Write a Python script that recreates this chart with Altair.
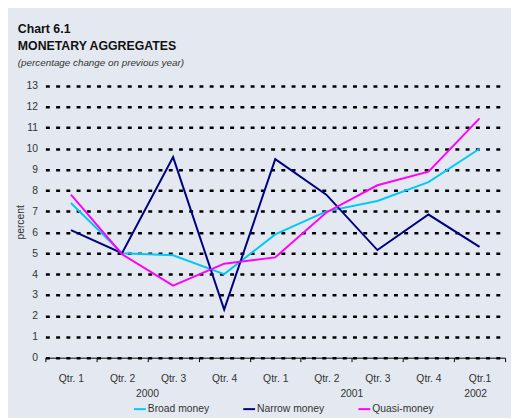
import altair as alt
import pandas as pd

periods = ["2000|Qtr. 1", "2000|Qtr. 2", "2000|Qtr. 3", "2000|Qtr. 4",
           "2001|Qtr. 1", "2001|Qtr. 2", "2001|Qtr. 3", "2001|Qtr. 4", "2002|Qtr.1"]
broad_money = [7.4, 5.0, 4.9, 4.0, 5.9, 7.0, 7.5, 8.4, 10.0]
narrow_money = [6.1, 5.0, 9.6, 2.3, 9.5, 7.8, 5.15, 6.85, 5.3]
quasi_money = [7.8, 4.95, 3.45, 4.5, 4.8, 6.95, 8.25, 8.9, 11.45]
series_names = ["Broad money", "Narrow money", "Quasi-money"]
series_colors = ["#00c8f8", "#000080", "#ff00ff"]
year_labels = ["2000", "2001"]
year_anchor = ["2000|Qtr. 2", "2001|Qtr. 2"]
last_year_label = ["2002"]
last_year_anchor = ["2002|Qtr.1"]
y_ticks = list(range(0, 14))

rows = []
for name, vals in zip(series_names, [broad_money, narrow_money, quasi_money]):
    for p, v in zip(periods, vals):
        rows.append({"period": p, "value": v, "series": name, "order": series_names.index(name)})
df = pd.DataFrame(rows)
years_df = pd.DataFrame({"period": year_anchor, "label": year_labels})
last_df = pd.DataFrame({"period": last_year_anchor, "label": last_year_label})

FONT = "Liberation Sans"
TXT = "#333333"

xscale = alt.Scale(type="band", domain=periods, paddingInner=0, paddingOuter=0)

lines = alt.Chart(df).mark_line(strokeWidth=2).encode(
    x=alt.X("period:N", scale=xscale, sort=periods, title=None,
            axis=alt.Axis(tickBand="extent", labelExpr="split(datum.value, '|')[1]",
                          labelAngle=0, labelFontSize=10.5, labelColor=TXT, labelFont=FONT,
                          domainColor="black", tickColor="black", tickSize=4,
                          labelPadding=12, grid=False)),
    y=alt.Y("value:Q", scale=alt.Scale(domain=[0, 13], nice=False),
            title="percent",
            axis=alt.Axis(values=y_ticks, domain=False, ticks=False, labelPadding=8,
                          labelFontSize=10.5, labelColor=TXT, labelFont=FONT,
                          titleFont=FONT, titleFontSize=10.5, titleFontWeight="normal",
                          titleColor=TXT, titlePadding=1,
                          grid=True, gridColor="black", gridDash=[4, 6.4], gridWidth=2.5)),
    color=alt.Color("series:N", scale=alt.Scale(domain=series_names, range=series_colors),
                    title=None,
                    legend=alt.Legend(orient="none", direction="horizontal", legendX=89, legendY=321,
                                      symbolType="stroke", symbolSize=144, symbolStrokeWidth=2,
                                      labelFontSize=10.5, labelFont=FONT, labelColor=TXT,
                                      columnPadding=30, labelOffset=1)),
    order="order:Q",
    detail="series:N",
)

years = alt.Chart(years_df).mark_text(fontSize=10.5, font=FONT, color=TXT, baseline="middle").encode(
    x=alt.X("period:N", scale=xscale, sort=periods, bandPosition=1),
    y=alt.value(313),
    text="label:N",
)
last_year = alt.Chart(last_df).mark_text(fontSize=10.5, font=FONT, color=TXT, baseline="middle", dx=-4).encode(
    x=alt.X("period:N", scale=xscale, sort=periods, bandPosition=0.5),
    y=alt.value(313),
    text="label:N",
)

chart = alt.layer(lines, years, last_year).properties(
    width=467, height=276,
    autosize=alt.AutoSizeParams(type="none"),
    padding={"left": 38, "top": 76, "right": 6, "bottom": 58},
    background="#e4e9f1",
    title=alt.TitleParams(
        text=["Chart 6.1", "MONETARY AGGREGATES"],
        subtitle="(percentage change on  previous year)",
        anchor="start", frame="group", dx=-28, offset=13,
        font=FONT, fontSize=12.5, fontWeight="bold", color="#111111", lineHeight=17,
        subtitleFont=FONT, subtitleFontSize=10, subtitleFontStyle="italic",
        subtitleColor=TXT, subtitlePadding=6,
    ),
).configure_view(stroke=None)

chart.save("out.html", embed_options={"renderer": "svg", "actions": False})
